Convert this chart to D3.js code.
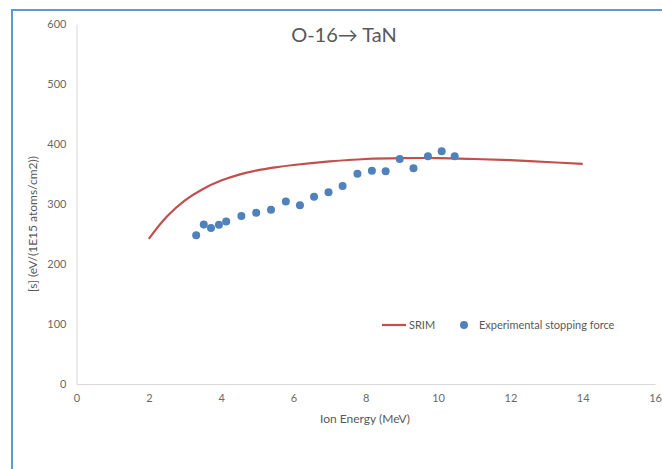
<!DOCTYPE html>
<html>
<head>
<meta charset="utf-8">
<script src="https://cdn.jsdelivr.net/npm/d3@7"></script>
<style>
body{margin:0;background:#fff;}
text{font-family:Lato,"Open Sans",sans-serif;}
</style>
</head>
<body>
<script>
var w=662;
var h=469;

// SRIM curve
var srimE=[2,2.5,3,3.5,4,4.5,5,5.5,6,7,8,9,10,11,12,13,14];
var srimS=[242,279,306,325,339,349,356,361,365,371,375,376.5,376.5,375,373,370,367];

// experimental points
var expE=[3.31,3.52,3.72,3.94,4.14,4.56,4.97,5.38,5.79,6.18,6.57,6.97,7.36,7.77,8.17,8.55,8.94,9.32,9.72,10.10,10.46];
var expS=[248,266,260,265.5,271,280,285.5,290.5,304,298,312,319.5,330,350.5,355.5,354.5,375,359.5,379.5,388,379.5];

var xTicks=[0,2,4,6,8,10,12,14,16];
var yTicks=[0,100,200,300,400,500,600];

var svg=d3.select("body").append("svg")
	.attr("width",w).attr("height",h);

// frame
svg.append("rect")
	.attr("x",12).attr("y",10)
	.attr("width",w).attr("height",h)
	.attr("fill","none")
	.attr("stroke","#5b9bd5").attr("stroke-width",2);

var x=d3.scaleLinear().domain([0,16]).range([76.5,655]);
var y=d3.scaleLinear().domain([0,600]).range([384,24]);

// axes
var xAxis=svg.append("g").attr("transform","translate(0,384)")
	.call(d3.axisBottom(x).tickValues(xTicks).tickSize(0).tickPadding(10));
var yAxis=svg.append("g").attr("transform","translate(76.5,0)")
	.call(d3.axisLeft(y).tickValues(yTicks).tickSize(0).tickPadding(10));

[xAxis,yAxis].forEach(function(a){
	a.select(".domain").attr("stroke","#d9d9d9");
	a.selectAll("text").attr("fill","#6a6a6a").attr("font-size",11)
		.style("font-family","Lato,'Open Sans',sans-serif");
});

// title
svg.append("text")
	.attr("x",344).attr("y",42)
	.attr("text-anchor","middle")
	.attr("font-size",20)
	.attr("fill","#595959")
	.text("O-16\u2192 TaN");

// axis titles
svg.append("text")
	.attr("x",365).attr("y",423)
	.attr("text-anchor","middle")
	.attr("font-size",12)
	.attr("fill","#595959")
	.text("Ion Energy (MeV)");

svg.append("text")
	.attr("transform","translate(37,224) rotate(-90)")
	.attr("text-anchor","middle")
	.attr("font-size",12)
	.attr("fill","#595959")
	.text("[s] (eV/(1E15 atoms/cm2))");

// SRIM line
var line=d3.line()
	.x(function(d,i){ return x(srimE[i]);})
	.y(function(d,i){ return y(d);})
	.curve(d3.curveCatmullRom);

svg.append("path")
	.datum(srimS)
	.attr("d",line)
	.attr("fill","none")
	.attr("stroke","#c0504d")
	.attr("stroke-width",2.2);

// experimental
svg.selectAll("circle.exp")
	.data(expS)
	.enter()
	.append("circle")
	.attr("class","exp")
	.attr("cx",function(d,i){ return x(expE[i]);})
	.attr("cy",function(d){ return y(d);})
	.attr("r",4)
	.attr("fill","#4f81bd");

// legend
var lg=svg.append("g");
lg.append("line")
	.attr("x1",382).attr("x2",406).attr("y1",325).attr("y2",325)
	.attr("stroke","#c0504d").attr("stroke-width",2.2);
lg.append("text")
	.attr("x",409).attr("y",329)
	.attr("font-size",11).attr("fill","#595959")
	.text("SRIM");
lg.append("circle")
	.attr("cx",464).attr("cy",325).attr("r",4)
	.attr("fill","#4f81bd");
lg.append("text")
	.attr("x",479).attr("y",329)
	.attr("font-size",11).attr("fill","#595959")
	.text("Experimental stopping force");
</script>
</body>
</html>
